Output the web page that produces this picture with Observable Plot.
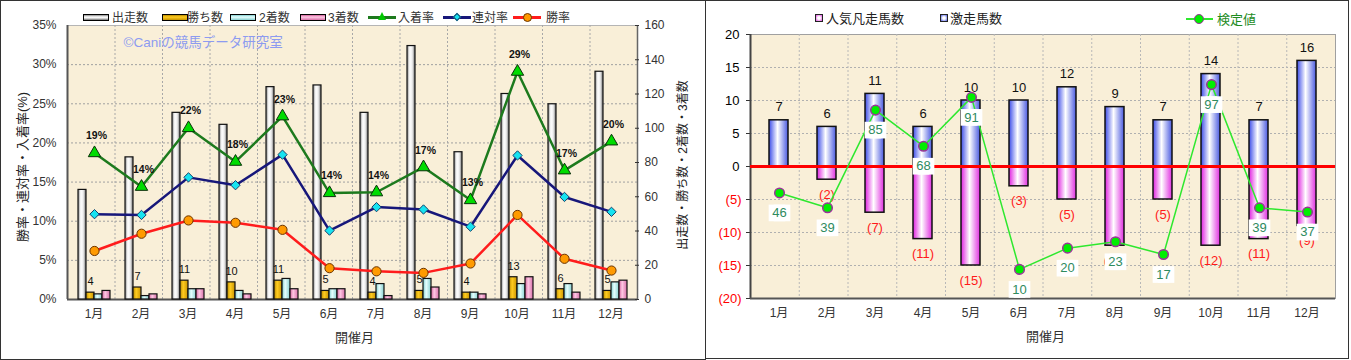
<!DOCTYPE html>
<html><head><meta charset="utf-8">
<script src="https://cdn.jsdelivr.net/npm/d3@7"></script>
<script src="https://cdn.jsdelivr.net/npm/@observablehq/plot@0.6"></script>
<style>
html,body{margin:0;padding:0;background:#fff;}
#root{position:relative;width:1351px;height:360px;overflow:hidden;font-family:'Liberation Sans','Noto Sans CJK JP',sans-serif;color:#222;}
.layer{position:absolute;top:0;}
.lg{position:absolute;white-space:nowrap;line-height:1;transform:translateY(-50%);}
.sw{position:absolute;box-sizing:border-box;border:1px solid #000;}
.vt{position:absolute;white-space:nowrap;line-height:1;transform:translate(-50%,-50%) rotate(-90deg);}
.box{position:absolute;box-sizing:border-box;border:1px solid #333;}
</style></head><body>
<svg width="0" height="0" style="position:absolute">
<defs>
<linearGradient id="gRun" x1="0" x2="1" y1="0" y2="0"><stop offset="0" stop-color="#8a8a8a"/><stop offset="0.35" stop-color="#ffffff"/><stop offset="0.65" stop-color="#eeeeee"/><stop offset="1" stop-color="#707070"/></linearGradient>
<linearGradient id="gWin" x1="0" x2="1" y1="0" y2="0"><stop offset="0" stop-color="#b88a00"/><stop offset="0.4" stop-color="#ffcc20"/><stop offset="1" stop-color="#c89400"/></linearGradient>
<linearGradient id="g2nd" x1="0" x2="1" y1="0" y2="0"><stop offset="0" stop-color="#7fcccc"/><stop offset="0.4" stop-color="#e6ffff"/><stop offset="1" stop-color="#88d0d0"/></linearGradient>
<linearGradient id="g3rd" x1="0" x2="1" y1="0" y2="0"><stop offset="0" stop-color="#d0609a"/><stop offset="0.4" stop-color="#ffc8e4"/><stop offset="1" stop-color="#d870a8"/></linearGradient>
<linearGradient id="gBlue" x1="0" x2="1" y1="0" y2="0"><stop offset="0" stop-color="#3c4ce8"/><stop offset="0.45" stop-color="#ffffff"/><stop offset="1" stop-color="#4a5ae0"/></linearGradient>
<linearGradient id="gPink" x1="0" x2="1" y1="0" y2="0"><stop offset="0" stop-color="#e020e0"/><stop offset="0.45" stop-color="#ffffff"/><stop offset="1" stop-color="#e030e0"/></linearGradient>
</defs></svg>
<div id="root"></div>
<script>
// ---------- data (left chart) ----------
const months = ["1月","2月","3月","4月","5月","6月","7月","8月","9月","10月","11月","12月"];
const barSeries = ["出走数","勝ち数","2着数","3着数"];
const runs    = [64, 83, 109, 102, 124, 125, 109, 148, 86, 120, 114, 133];
const wins    = [4, 7, 11, 10, 11, 5, 4, 5, 4, 13, 6, 5];
const seconds = [3, 2, 6, 5, 12, 6, 9, 12, 4, 9, 9, 10];
const thirds  = [5, 3, 6, 3, 6, 6, 2, 7, 3, 13, 4, 11];
const placeRate  = [18.7, 14.4, 21.9, 17.6, 23.4, 13.6, 13.7, 16.9, 12.7, 29.1, 16.5, 20.2];
const rentaiRate = [10.9, 10.8, 15.6, 14.6, 18.5, 8.8, 11.8, 11.5, 9.3, 18.4, 13.1, 11.2];
const winRate    = [6.2, 8.4, 10.1, 9.8, 8.9, 4.0, 3.6, 3.4, 4.6, 10.8, 5.2, 3.7];
const pctTicks   = [0, 5, 10, 15, 20, 25, 30, 35];
const countTicks = [0, 20, 40, 60, 80, 100, 120, 140, 160];
// ---------- data (right chart) ----------
const upsetCounts = [7, 6, 11, 6, 10, 10, 12, 9, 7, 14, 7, 16];   // 激走馬数
const flopCounts  = [0, 2, 7, 11, 15, 3, 5, 12, 5, 12, 11, 9];    // 人気凡走馬数
const testValues  = [46, 39, 85, 68, 91, 10, 20, 23, 17, 97, 39, 37]; // 検定値
const diffTicks   = [-20, -15, -10, -5, 0, 5, 10, 15, 20];
const testDomain  = [-3.7, 120.6]; // hidden secondary axis of 検定値

const root = document.getElementById("root");
const font = "'Liberation Sans','Noto Sans CJK JP',sans-serif";
const style = {background:"transparent", fontFamily:font, fontSize:"12px", color:"#333", overflow:"visible"};
function place(svg, left){ svg.classList.add("layer"); svg.style.left = left + "px"; root.appendChild(svg); }
function html(tag, cls, css, text){ const e = document.createElement(tag); if (cls) e.className = cls; Object.assign(e.style, css); if (text != null) e.textContent = text; root.appendChild(e); return e; }

const boundaries = months.slice(1).map((m, i) => i + 1);

// panel frames
html("div", null, {position:"absolute", left:"0px", top:"0px", width:"706px", height:"360px", boxSizing:"border-box", border:"1px solid #333"});
html("div", null, {position:"absolute", left:"705px", top:"0px", width:"644px", height:"359px", boxSizing:"border-box", border:"1px solid #333"});

// ================= LEFT CHART =================
const L = {width:700, height:360, marginLeft:67, marginRight:63, marginTop:25, marginBottom:61};

place(Plot.plot({...L, style,
  x:{domain:[0, months.length], axis:null},
  y:{domain:[0, 35], ticks:pctTicks, tickFormat:d => d + "%", label:null, tickSize:0, tickPadding:11},
  marks:[
    Plot.frame({fill:"#f9efd8", stroke:"#b5b5b5"}),
    Plot.ruleY(pctTicks.filter(d => d > 0 && d < 35), {stroke:"#a0a0a0", strokeDasharray:"2,2"}),
    Plot.ruleX(boundaries, {stroke:"#a8a8a8", strokeDasharray:"2,2"}),
    Plot.ruleX([0], {stroke:"#555", strokeWidth:2}),
    Plot.ruleX([months.length], {stroke:"#666", strokeWidth:1.5}),
    Plot.ruleY([0], {stroke:"#555", strokeWidth:2})
  ]}), 0);

const barData = months.flatMap((m, i) => [
  {month:m, series:barSeries[0], value:runs[i]},
  {month:m, series:barSeries[1], value:wins[i]},
  {month:m, series:barSeries[2], value:seconds[i]},
  {month:m, series:barSeries[3], value:thirds[i]}
]);
const barFills = {"出走数":"url(#gRun)", "勝ち数":"url(#gWin)", "2着数":"url(#g2nd)", "3着数":"url(#g3rd)"};

place(Plot.plot({...L, style,
  fx:{domain:months, padding:0, axis:"bottom", label:null, tickSize:0, tickPadding:10},
  x:{domain:barSeries, paddingInner:0, paddingOuter:0.72, axis:null},
  y:{domain:[0, 160], ticks:countTicks, axis:"right", label:null, tickSize:4, tickPadding:6},
  marks:[
    ...barSeries.map(s => Plot.barY(barData.filter(d => d.series === s),
      {fx:"month", x:"series", y:"value", fill:barFills[s], stroke:"#111", strokeWidth:1.2})),
    Plot.text(barData.filter(d => d.series === "勝ち数"),
      {fx:"month", x:"series", y:"value", text:d => String(d.value), dy:-11, fontSize:11, fill:"#111"})
  ]}), 0);

const rateData = months.map((m, i) => ({month:m, place:placeRate[i], rentai:rentaiRate[i], win:winRate[i]}));
place(Plot.plot({...L, style,
  x:{type:"point", domain:months, padding:0.5, axis:null},
  y:{domain:[0, 35], axis:null},
  marks:[
    Plot.text(["©Caniの競馬データ研究室"], {frameAnchor:"top-left", dx:56, dy:17, lineAnchor:"middle", textAnchor:"start", fill:"#8d9bf0", fontSize:13.5}),
    Plot.line(rateData, {x:"month", y:"place", stroke:"#1d7a1d", strokeWidth:2.5}),
    Plot.line(rateData, {x:"month", y:"rentai", stroke:"#17177a", strokeWidth:2.5}),
    Plot.line(rateData, {x:"month", y:"win", stroke:"#ff1c1c", strokeWidth:2.5}),
    Plot.dot(rateData, {x:"month", y:"place", symbol:"triangle", r:4.6, fill:"#00dc00", stroke:"#0a300a", strokeWidth:1}),
    Plot.dot(rateData, {x:"month", y:"rentai", symbol:"diamond2", r:4.2, fill:"#17e3f0", stroke:"#15406a", strokeWidth:1}),
    Plot.dot(rateData, {x:"month", y:"win", symbol:"circle", r:4.6, fill:"#ff9a00", stroke:"#6a3300", strokeWidth:1}),
    Plot.text(rateData, {x:"month", y:"place", text:d => Math.round(d.place) + "%", dy:-17, dx:2, fontWeight:"bold", fontSize:10.5, fill:"#111"})
  ]}), 0);

// left legend
const legL = [
  {t:"出走数", sw:83, tx:112, bg:"linear-gradient(#8a8a8a,#fff 40%,#eee 60%,#707070)"},
  {t:"勝ち数", sw:162, tx:187, bg:"linear-gradient(#b88a00,#ffcc20 40%,#c89400)"},
  {t:"2着数", sw:230, tx:259, bg:"linear-gradient(#7fcccc,#e6ffff 40%,#88d0d0)"},
  {t:"3着数", sw:300, tx:328, bg:"linear-gradient(#d0609a,#ffc8e4 40%,#d870a8)"}
];
legL.forEach(d => {
  html("div", "sw", {left:d.sw + "px", top:"14px", width:"26px", height:"7px", background:d.bg});
  html("div", "lg", {left:d.tx + "px", top:"17.5px", fontSize:"12px", color:"#333"}, d.t);
});
const legLines = [
  {t:"入着率", x0:368, tx:398, c:"#1d7a1d", m:"tri"},
  {t:"連対率", x0:443, tx:472, c:"#17177a", m:"dia"},
  {t:"勝率", x0:513, tx:546, c:"#ff1c1c", m:"cir"}
];
legLines.forEach(d => {
  html("div", null, {position:"absolute", left:d.x0 + "px", top:"16px", width:"28px", height:"3px", background:d.c});
  if (d.m === "tri") html("div", null, {position:"absolute", left:(d.x0 + 10) + "px", top:"12px", width:"0", height:"0", borderLeft:"4px solid transparent", borderRight:"4px solid transparent", borderBottom:"8px solid #00c800"});
  if (d.m === "dia") html("div", null, {position:"absolute", left:(d.x0 + 11) + "px", top:"14px", width:"6px", height:"6px", background:"#17e3f0", border:"1px solid #15406a", transform:"rotate(45deg)", boxSizing:"border-box"});
  if (d.m === "cir") html("div", null, {position:"absolute", left:(d.x0 + 10) + "px", top:"13px", width:"9px", height:"9px", borderRadius:"50%", background:"#ff9a00", border:"1px solid #6a3300", boxSizing:"border-box"});
  html("div", "lg", {left:d.tx + "px", top:"17.5px", fontSize:"12px", color:"#333"}, d.t);
});
html("div", "vt", {left:"22px", top:"167px", fontSize:"13px", color:"#222"}, "勝率・連対率・入着率(%)");
html("div", "vt", {left:"683px", top:"165px", fontSize:"12px", color:"#222"}, "出走数・勝ち数・2着数・3着数");
html("div", "lg", {left:"335px", top:"337px", fontSize:"13px", color:"#333"}, "開催月");

// ================= RIGHT CHART =================
const R = {width:646, height:360, marginLeft:45, marginRight:16, marginTop:34, marginBottom:62};

place(Plot.plot({...R, style,
  x:{domain:[0, months.length], axis:null},
  y:{domain:[-20, 20], ticks:diffTicks, tickFormat:() => "", axis:"left", label:null, tickSize:4},
  marks:[
    Plot.frame({fill:"#f9efd8", stroke:"#a0a0a0"}),
    Plot.ruleY(diffTicks.filter(d => d > -20 && d < 20 && d !== 0), {stroke:"#b0b0b0", strokeDasharray:"2,2"}),
    Plot.ruleX(boundaries, {stroke:"#b8b8b8", strokeDasharray:"2,2"}),
    Plot.ruleX([0], {stroke:"#444", strokeWidth:2}),
    Plot.ruleY([-20], {stroke:"#555", strokeWidth:2}),
    Plot.text(diffTicks.filter(d => d >= 0), {y:d => d, text:d => String(d), frameAnchor:"left", textAnchor:"end", dx:-11, fill:"#000", fontSize:13}),
    Plot.text(diffTicks.filter(d => d < 0), {y:d => d, text:d => "(" + (-d) + ")", frameAnchor:"left", textAnchor:"end", dx:-9, fill:"#ff0000", fontSize:13})
  ]}), 705);

const diffData = months.map((m, i) => ({month:m, upset:upsetCounts[i], flop:flopCounts[i]}));
place(Plot.plot({...R, style,
  x:{domain:months, paddingInner:0.6, paddingOuter:0.3, axis:"bottom", label:null, tickSize:0, tickPadding:10},
  y:{domain:[-20, 20], axis:null},
  marks:[
    Plot.barY(diffData, {x:"month", y:"upset", fill:"url(#gBlue)", stroke:"#111", strokeWidth:1.5}),
    Plot.barY(diffData.filter(d => d.flop > 0), {x:"month", y:d => -d.flop, fill:"url(#gPink)", stroke:"#111", strokeWidth:1.5}),
    Plot.ruleY([0], {stroke:"#ff0000", strokeWidth:3}),
    Plot.text(diffData, {x:"month", y:"upset", text:d => String(d.upset), dy:-13, fontSize:13, fill:"#111"}),
    Plot.text(diffData.filter(d => d.flop > 0), {x:"month", y:d => -d.flop, text:d => "(" + d.flop + ")", dy:15, fontSize:13, fill:"#ff1a1a"})
  ]}), 705);

const testData = months.map((m, i) => ({month:m, v:testValues[i]}));
place(Plot.plot({...R, style,
  x:{type:"point", domain:months, padding:0.5, axis:null},
  y:{domain:testDomain, axis:null},
  marks:[
    Plot.line(testData, {x:"month", y:"v", stroke:"#2ee82e", strokeWidth:1.5}),
    Plot.dot(testData, {x:"month", y:"v", r:4.8, fill:"#00ee00", stroke:"#993399", strokeWidth:1.5}),
    Plot.dot(testData, {x:"month", y:"v", symbol:"square", r:9.4, dy:20, dx:-2.5, fill:"#fff"}),
    Plot.dot(testData, {x:"month", y:"v", symbol:"square", r:9.4, dy:20, dx:2.5, fill:"#fff"}),
    Plot.text(testData, {x:"month", y:"v", text:d => String(d.v), dy:20, fontSize:13, fill:"#2e8b5e"})
  ]}), 705);

// right legend
html("div", "box", {left:"815px", top:"14px", width:"8px", height:"8px", background:"radial-gradient(#fff 30%,#e040e0)", border:"1px solid #222"});
html("div", "lg", {left:"826px", top:"18px", fontSize:"13px", color:"#222"}, "人気凡走馬数");
html("div", "box", {left:"940px", top:"14px", width:"8px", height:"8px", background:"radial-gradient(#fff 30%,#4050e0)", border:"1px solid #222"});
html("div", "lg", {left:"950px", top:"18px", fontSize:"13px", color:"#222"}, "激走馬数");
html("div", null, {position:"absolute", left:"1186px", top:"18px", width:"27px", height:"2px", background:"#2ee82e"});
html("div", null, {position:"absolute", left:"1194px", top:"14px", width:"10px", height:"10px", borderRadius:"50%", background:"#00ee00", border:"1.5px solid #993399", boxSizing:"border-box"});
html("div", "lg", {left:"1217px", top:"19px", fontSize:"13px", color:"#1e8c1e"}, "検定値");
html("div", "lg", {left:"1026px", top:"336px", fontSize:"13px", color:"#333"}, "開催月");
</script>
</body></html>
